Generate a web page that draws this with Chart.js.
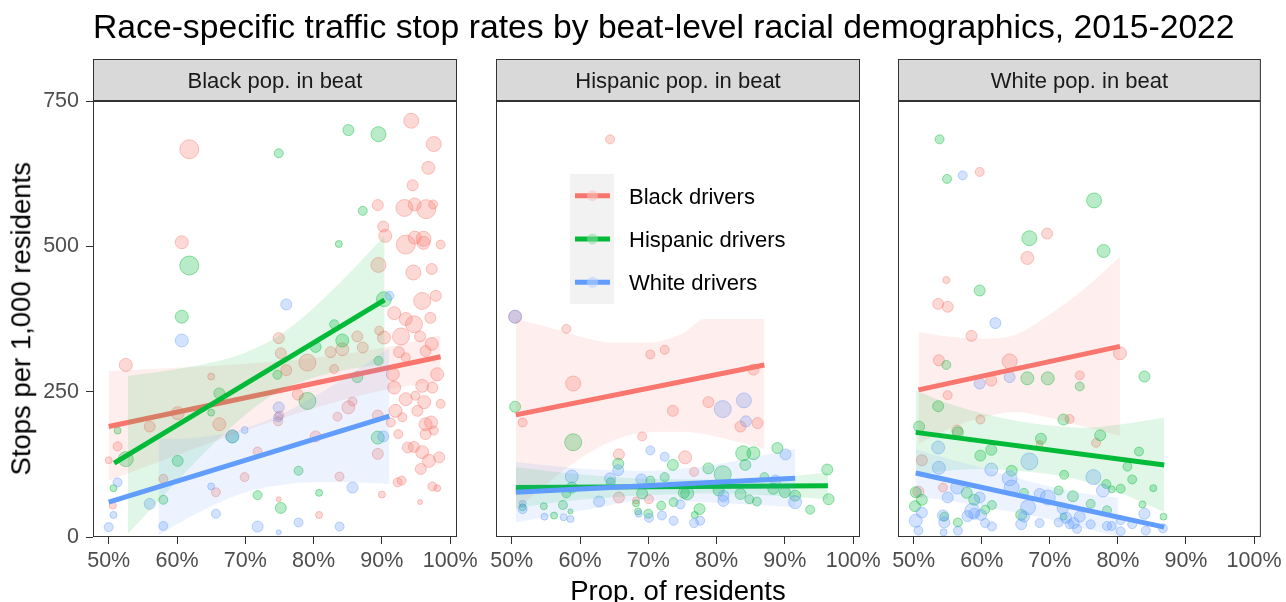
<!DOCTYPE html>
<html>
<head>
<meta charset="utf-8">
<script src="https://cdn.jsdelivr.net/npm/chart.js@4.4.1/dist/chart.umd.min.js"></script>
<style>
    html, body { margin: 0; padding: 0; background: #fff; }
    #wrap { position: relative; width: 1286px; height: 602px; overflow: hidden; font-family: "Liberation Sans", Arial, Helvetica, sans-serif; }
    #wrap canvas { position: absolute; left: 0; top: 0; }
    .title { position: absolute; left: 93px; top: 10px; font-size: 33.7px; line-height: 33.7px; color: #000; white-space: nowrap; }
    .xtitle { position: absolute; left: 478px; top: 577px; width: 400px; text-align: center; font-size: 27.5px; line-height: 27.5px; color: #000; }
    .ytitle { position: absolute; left: -179px; top: 305px; width: 400px; text-align: center; font-size: 27.5px; line-height: 27.5px; color: #000; transform: rotate(-90deg); }
</style>
</head>
<body>
<div id="wrap">
    <canvas id="panel1" width="1286" height="602"></canvas>
    <canvas id="panel2" width="1286" height="602"></canvas>
    <canvas id="panel3" width="1286" height="602"></canvas>
    <div class="title">Race-specific traffic stop rates by beat-level racial demographics, 2015-2022</div>
    <div class="ytitle">Stops per 1,000 residents</div>
    <div class="xtitle">Prop. of residents</div>
</div>
<script>
// facets, driver groups and axis ticks
const panelLabels = ['Black pop. in beat', 'Hispanic pop. in beat', 'White pop. in beat'];
const drivers = ['Black drivers', 'Hispanic drivers', 'White drivers'];
const xTicks = [50, 60, 70, 80, 90, 100];
const yTicks = [0, 250, 500, 750];

// beats: [prop. of residents %, stops per 1,000, residents (thousands)]
const blkBeat_blk = [[61.8,667,8],[94.3,716,6],[97.6,676,6],[96.8,635,5],[94.5,605,4],[89.4,571,4],[93.3,566,7],[94.8,572,5],[96.5,564,8],[97.5,572,3],[90.2,534,4],[90.5,518,5],[93.5,503,8],[94.8,515,5],[96.1,513,6],[96.1,506,5],[98.6,503,3],[60.7,507,5],
    [52.5,296,5],[89.5,468,6],[94.6,455,6],[97.3,461,4],[97.9,415,4],[95.9,406,7],[91.8,385,5],[93.5,375,5],[94.7,366,7],[97.1,377,4],[92.8,345,7],[95.6,345,4],[97.3,332,5],[90.3,343,5],[89.6,355,3],[92.5,318,4],[96.4,320,4],[93.5,309,3],[98.1,280,5],[91.6,280,5],[95.9,260,5],[97.4,257,4],[91.8,257,5],[94.9,243,3],[96.2,232,5],[98.6,229,3],[93.5,237,5],[95.2,217,4],[92.0,217,5],[93.0,206,3],[96.4,194,5],[97.2,197,5],[97.6,183,3],[96.4,177,4],[92.4,177,3],[93.8,154,4],[94.7,155,4],[95.9,146,5],[96.9,131,5],[98.4,137,4],[95.7,117,4],[92.3,94,3],[92.9,97,3],[97.4,87,3],[98.1,84,2],[95.6,60,1],[90.0,73,2],[89.4,143,4],[89.4,209,4],[91.3,197,3],
    [50.0,132,2],[51.3,156,3],[56.0,190,4],[60.1,213,5],[65.0,276,2],[66.2,194,5],[58.0,100,3],[65.7,77,3],[69.9,103,3],[71.8,147,3],[74.9,342,4],[75.2,316,4],[76.0,287,4],[79.1,300,7],[83.0,289,3],[82.5,318,4],[84.2,323,5],[86.4,345,4],[87.2,326,4],[75.0,209,3],[74.8,199,3],[80.3,173,4],[83.5,207,3],[85.1,223,5],[85.7,233,3],[83.8,104,3],[80.8,38,2],[74.9,65,1],[50.6,54,2],[77.7,245,4]];
const blkBeat_hsp = [[74.9,660,3],[85.1,700,4],[89.5,693,6],[87.2,561,3],[83.7,504,2],[61.8,467,8],[60.7,379,5],[90.3,409,6],[51.3,183,2],[50.7,84,2],[52.5,134,6],[60.1,131,4],[58.0,64,3],[65.0,214,2],[66.2,247,4],[68.1,173,5],[74.7,279,3],[79.1,234,7],[80.3,327,4],[83.0,366,3],[84.2,338,5],[86.4,275,4],[89.5,303,3],[89.4,171,5],[77.8,114,3],[71.8,72,3],[75.2,50,4],[80.8,76,2]];
const blkBeat_wht = [[60.7,338,5],[76.0,400,4],[91.1,415,3],[50.0,17,3],[50.7,38,2],[51.3,94,3],[56.0,57,4],[58.0,19,3],[65.0,87,2],[65.7,40,3],[69.9,184,2],[68.1,173,5],[74.9,223,4],[74.8,206,3],[71.8,18,4],[74.9,8,1],[77.8,25,3],[83.8,18,3],[85.7,85,4],[90.2,173,4]];

const hspBeat_blk = [[64.4,684,3],[50.5,379,5],[58.0,358,3],[70.3,314,3],[72.4,322,3],[59.0,264,6],[51.6,197,3],[73.6,217,4],[78.8,232,4],[83.5,190,4],[86.0,196,4],[85.4,288,4],[69.1,173,3],[65.7,142,4],[75.4,137,5],[76.7,112,3],[70.1,65,3],[68.2,63,2],[65.7,68,4]];
const hspBeat_hsp = [[50.5,224,4],[59.0,163,7],[65.6,126,4],[73.6,124,4],[78.8,118,4],[80.9,108,7],[83.9,144,6],[85.4,144,5],[84.2,124,4],[88.9,153,4],[58.8,85,4],[58.0,75,3],[70.3,97,3],[72.4,103,3],[87.0,103,3],[88.3,83,4],[96.2,116,4],[96.4,65,4],[93.7,47,3],[91.5,71,4],[90.0,77,4],[85.9,61,3],[84.8,65,3],[83.5,74,4],[80.3,80,4],[75.2,76,4],[75.7,75,5],[77.5,48,4],[76.8,38,2],[71.9,54,3],[73.7,60,3],[70.0,40,3],[68.5,44,2],[68.2,58,2],[69.1,75,4],[57.5,55,3],[54.7,53,2],[56.2,37,2],[58.6,44,1],[51.6,51,2],[64.5,94,3]];
const hspBeat_wht = [[50.5,379,5],[84.0,235,6],[84.3,199,4],[80.9,220,7],[70.3,149,3],[72.4,138,3],[65.6,115,4],[90.1,142,4],[58.8,104,5],[64.4,101,4],[69.0,99,4],[88.6,97,4],[91.5,60,5],[81.0,62,4],[81.0,71,4],[74.7,56,3],[73.7,28,3],[76.7,24,3],[77.6,28,3],[72.0,37,3],[70.1,33,3],[68.6,40,2],[62.8,61,4],[54.8,35,2],[57.6,34,2],[58.6,31,2],[51.6,48,3],[51.6,57,2]];

const whtBeat_blk = [[59.7,628,3],[69.6,522,4],[66.7,480,5],[54.8,442,2],[53.6,401,4],[55.0,396,4],[58.5,346,4],[53.7,304,4],[64.1,302,6],[61.4,269,4],[74.4,278,3],[80.3,316,5],[55.0,244,3],[59.8,202,3],[72.9,203,3],[56.4,183,4],[68.5,160,2],[76.8,162,3],[51.2,132,4],[50.7,78,4],[54.3,85,3]];
const whtBeat_hsp = [[53.8,684,3],[54.9,616,3],[76.5,579,6],[67.0,514,6],[77.9,492,5],[59.7,424,4],[54.8,296,3],[66.7,273,5],[69.7,273,5],[74.4,259,3],[83.9,276,4],[53.6,225,4],[72.0,202,4],[50.8,190,4],[56.5,180,4],[68.7,169,4],[77.4,175,4],[61.4,150,4],[59.8,140,4],[64.4,114,4],[72.1,107,3],[78.3,91,3],[83.1,147,3],[81.4,121,3],[82.1,99,3],[85.2,84,2],[71.3,80,3],[79.1,82,2],[80.4,83,3],[57.8,76,4],[58.9,64,4],[50.3,77,4],[51.2,64,4],[50.2,53,4],[54.5,35,3],[56.5,25,3],[60.5,47,3],[61.5,55,3],[65.8,38,4],[66.2,76,3],[72.0,35,2],[73.4,70,4],[76.0,57,3],[78.4,46,3],[83.6,56,2],[86.7,35,2]];
const whtBeat_wht = [[57.2,622,3],[62.0,368,4],[59.7,264,4],[64.1,275,4],[53.6,154,5],[53.7,119,5],[61.4,116,5],[67.0,130,7],[64.1,101,6],[76.4,103,6],[77.8,80,5],[56.4,85,5],[55.0,68,4],[59.7,68,4],[50.3,28,5],[51.2,42,4],[50.7,11,3],[54.3,37,4],[54.5,25,4],[54.4,8,2],[56.5,11,3],[57.9,36,4],[58.6,45,6],[58.9,40,4],[59.9,38,4],[60.5,24,3],[61.5,18,3],[65.8,22,4],[66.2,35,4],[66.8,51,6],[64.4,85,6],[68.5,74,4],[69.7,68,6],[71.9,49,4],[72.4,33,4],[72.9,22,3],[73.5,24,4],[74.0,14,3],[74.4,35,4],[76.0,22,3],[78.4,19,3],[79.1,19,3],[80.4,10,3],[80.4,29,3],[82.1,22,3],[83.9,40,4],[84.1,11,3],[86.6,15,3],[71.3,25,3],[68.5,24,3]];

// linear fits: [[x start, y start], [x end, y end]]
const blkBeatFit = [[[50.0,190],[98.6,310]], [[50.8,127],[90.4,408]], [[50.0,60],[91.1,208]]];
const hspBeatFit = [[[50.6,210],[87.0,296]], [[50.6,85],[96.3,88]], [[50.6,77],[91.5,101]]];
const whtBeatFit = [[[50.7,253],[80.3,328]], [[50.3,180],[86.8,124]], [[50.3,110],[86.8,17]]];

// confidence bands: [x, upper, lower]
const blkBeatCI = [
    [[50.0,285,97],[60,291,141],[70,298,183],[80,308,221],[90,325,252],[98.6,347,268]],
    [[52.8,277,5],[56,282,46],[60,289,96],[65,300,156],[70,317,210],[75,347,251],[80,394,274],[85,451,288],[90.4,518,298]],
    [[57.3,169,3],[60,169,22],[65,174,53],[70,187,77],[75,210,89],[80,241,94],[85,277,94],[91.1,325,91]]
];
const hspBeatCI = [
    [[50.6,375,46],[55,362,90],[60,345,135],[65,334,167],[70,334,180],[75,350,181],[78.3,375,177],[82,375,167],[87.0,375,152]],
    [[50.6,120,50],[60,108,64],[70,100,72],[80,99,75],[90,104,70],[96.3,111,65]],
    [[50.6,129,25],[60,118,45],[70,114,63],[80,125,59],[91.5,152,51]]
];
const whtBeatCI = [
    [[50.7,352,160],[55,345,185],[60,341,205],[65,348,215],[70,383,205],[75,426,190],[80.3,482,174]],
    [[50.3,252,107],[55,230,114],[60,213,117],[65,200,114],[70,192,108],[75,188,96],[80,193,77],[86.8,205,43]],
    [[50.3,151,69],[55,135,63],[60,119,53],[65,102,42],[70,87,30],[75,75,15],[80,68,1]]
];

const FONT = '"Liberation Sans", Arial, Helvetica, sans-serif';
const RGB = ['248,118,109', '0,186,56', '97,156,255'];
const rgba = (d, a) => `rgba(${RGB[d]},${a})`;

Chart.defaults.font.family = FONT;

function buildDatasets(points, fits, bands) {
    const sets = [];
    points.forEach((pts, d) => {
        sets.push({
            type: 'bubble',
            data: pts.map(p => ({ x: p[0], y: p[1], r: 1.5 + p[2] })),
            backgroundColor: rgba(d, 0.28),
            borderColor: rgba(d, 0.42),
            borderWidth: 1,
            order: 103 - d
        });
    });
    bands.forEach((band, d) => {
        sets.push({
            type: 'line',
            data: band.map(b => ({ x: b[0], y: b[1] })),
            borderWidth: 0,
            pointRadius: 0,
            cubicInterpolationMode: 'monotone',
            fill: '+1',
            backgroundColor: rgba(d, 0.12),
            order: 6 - 2 * d
        });
        sets.push({
            type: 'line',
            data: band.map(b => ({ x: b[0], y: b[2] })),
            borderWidth: 0,
            pointRadius: 0,
            cubicInterpolationMode: 'monotone',
            fill: false,
            order: 6 - 2 * d
        });
        sets.push({
            type: 'line',
            data: fits[d].map(f => ({ x: f[0], y: f[1] })),
            borderColor: rgba(d, 1),
            borderWidth: 5,
            pointRadius: 0,
            fill: false,
            order: 5 - 2 * d
        });
    });
    return sets;
}

// strip header, panel border and the inside legend
const panelFrame = {
    id: 'panelFrame',
    afterDraw(chart, args, opts) {
        const { ctx, chartArea: a } = chart;
        ctx.save();
        ctx.fillStyle = '#D9D9D9';
        ctx.fillRect(a.left, a.top - 42, a.width, 42);
        ctx.strokeStyle = '#333333';
        ctx.lineWidth = 1;
        ctx.strokeRect(a.left + 0.5, a.top - 41.5, a.width - 1, 41);
        ctx.strokeRect(a.left + 0.5, a.top + 0.5, a.width - 1, a.height - 1);
        ctx.fillStyle = '#1A1A1A';
        ctx.font = '22px ' + FONT;
        ctx.textAlign = 'center';
        ctx.textBaseline = 'alphabetic';
        ctx.fillText(opts.label, (a.left + a.right) / 2, a.top - 21 + 7.9);

        if (opts.legend) {
            const x0 = a.left + 74, y0 = a.top + 73, keyH = 43.3;
            ctx.fillStyle = '#F2F2F2';
            ctx.fillRect(x0, y0, 44, keyH * 3);
            drivers.forEach((name, d) => {
                const cy = y0 + keyH * (d + 0.5);
                ctx.beginPath();
                ctx.moveTo(x0 + 5, cy);
                ctx.lineTo(x0 + 40, cy);
                ctx.strokeStyle = rgba(d, 1);
                ctx.lineWidth = 5;
                ctx.stroke();
                ctx.beginPath();
                ctx.arc(x0 + 22.5, cy, 5.5, 0, Math.PI * 2);
                ctx.fillStyle = 'rgba(255,255,255,0.4)';
                ctx.fill();
                ctx.fillStyle = rgba(d, 0.25);
                ctx.fill();
                ctx.fillStyle = '#000';
                ctx.font = '22px ' + FONT;
                ctx.textAlign = 'left';
                ctx.fillText(name, x0 + 59, cy + 7.9);
            });
        }
        ctx.restore();
    }
};

function makePanel(id, idx, padLeft, padRight, showY, points, fits, bands) {
    new Chart(document.getElementById(id), {
        type: 'scatter',
        data: { datasets: buildDatasets(points, fits, bands) },
        plugins: [panelFrame],
        options: {
            responsive: false,
            animation: false,
            events: [],
            layout: { padding: { left: padLeft, right: padRight, top: 101, bottom: 0 } },
            plugins: {
                legend: { display: false },
                tooltip: { enabled: false },
                panelFrame: { label: panelLabels[idx], legend: idx === 1 }
            },
            scales: {
                x: {
                    type: 'linear',
                    min: 47.7,
                    max: 101.0,
                    afterBuildTicks: s => { s.ticks = xTicks.map(v => ({ value: v })); },
                    afterFit: s => { s.height = 65; },
                    border: { display: false },
                    grid: { drawOnChartArea: false, drawTicks: true, tickLength: 7, color: '#333333', lineWidth: 1 },
                    ticks: {
                        autoSkip: false,
                        maxRotation: 0,
                        padding: 4,
                        color: '#4D4D4D',
                        font: { size: 21.5 },
                        callback: v => v + '%'
                    }
                },
                y: {
                    type: 'linear',
                    display: showY,
                    min: 0,
                    max: 750,
                    afterBuildTicks: s => { s.ticks = yTicks.map(v => ({ value: v })); },
                    afterFit: s => { s.width = showY ? 93 : 0; },
                    border: { display: false },
                    grid: { drawOnChartArea: false, drawTicks: true, tickLength: 7, color: '#333333', lineWidth: 1 },
                    ticks: { padding: 7, color: '#4D4D4D', font: { size: 21.5 } }
                }
            }
        }
    });
}

makePanel('panel1', 0, 0, 829, true, [blkBeat_blk, blkBeat_hsp, blkBeat_wht], blkBeatFit, blkBeatCI);
makePanel('panel2', 1, 496, 426, false, [hspBeat_blk, hspBeat_hsp, hspBeat_wht], hspBeatFit, hspBeatCI);
makePanel('panel3', 2, 898, 24, false, [whtBeat_blk, whtBeat_hsp, whtBeat_wht], whtBeatFit, whtBeatCI);
</script>
</body>
</html>
